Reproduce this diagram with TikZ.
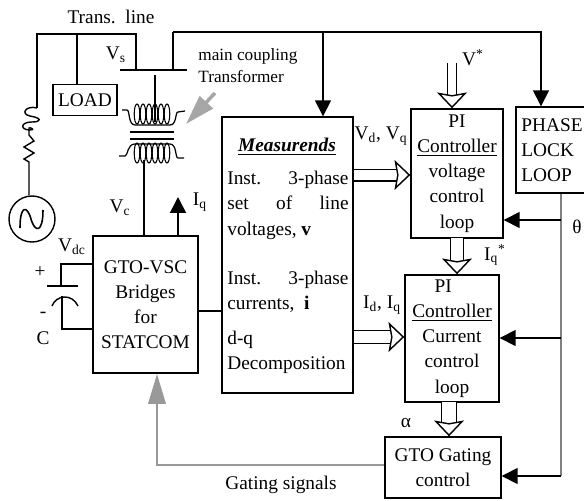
\documentclass[tikz,border=0pt]{standalone}
\usepackage{fontspec}
\setmainfont{Liberation Serif}
\usetikzlibrary{arrows.meta}
\newcommand{\pw}{0.02cm}
\begin{document}
\begin{tikzpicture}[x=0.02cm, y=-0.02cm,
    box/.style={draw, line width=0.8pt, inner sep=0pt, align=center, font=\fontsize{11}{14.3}\selectfont},
    txt/.style={inner sep=0pt, font=\fontsize{11}{14.3}\selectfont},
    sym/.style={inner sep=0pt, font=\fontsize{11}{13}\selectfont},
    side/.style={inner sep=0pt, align=left, anchor=north west, font=\fontsize{11}{14.3}\selectfont},
    wire/.style={line width=0.8pt},
    line/.style={line width=0.9pt, -{Triangle[length=9pt, width=9pt]}},
    hollow/.style={line width=0.7pt, double, double distance=#1, -{Stealth[open, fill=white, length=9pt, width=17pt, inset=1.5pt, line width=0.8pt]}},
    hollow/.default=6pt,
    gray line/.style={draw=gray!80, line width=1pt}]
\useasboundingbox (0,0) rectangle (584,500);
\node[box, minimum width=64*\pw, minimum height=31*\pw] (load) at (85,100) {LOAD};
\node[box, minimum width=105*\pw, minimum height=137*\pw] (gto) at (145.5,304.5) {GTO-VSC\\Bridges\\for\\STATCOM};
\node[draw, line width=0.8pt, minimum width=131*\pw, minimum height=276*\pw, inner sep=0pt] (meas) at (287.5,255) {};
\node[box, minimum width=92*\pw, minimum height=129*\pw] (pivolt) at (457,173.5) {PI\\\underline{Controller}\\voltage\\control\\loop};
\node[box, minimum width=94*\pw, minimum height=127*\pw] (picurr) at (452,338.5) {\hspace*{-10pt}PI\\\underline{Controller}\\Current\\control\\loop};
\node[box, minimum width=116*\pw, minimum height=61*\pw] (gating) at (443,467.5) {GTO Gating\\control};
\node[box, minimum width=72*\pw, minimum height=86*\pw, align=left] (pll) at (552,150) {PHASE\\LOCK\\LOOP};
\node[draw, circle, line width=0.8pt, minimum size=46*\pw, inner sep=0pt] (src) at (32,219) {};
\node[txt, font=\fontsize{11}{14}\selectfont\bfseries\itshape] (title) at (287,147) {\underline{Measurends}};
\node[side] (inst1) at (227,171) {\makebox[69pt][s]{Inst. 3-phase}\\\makebox[69pt][s]{set of line}\\voltages, \textbf{v}};
\node[side] (inst2) at (227,271) {\makebox[69pt][s]{Inst. 3-phase}\\currents,~~\textbf{i}};
\node[side] (dq) at (227,331) {d-q\\Decomposition};
\node[txt] (trans) at (111,17) {Trans.~~line};
\node[txt, font=\fontsize{9.8}{12.5}\selectfont, align=left, anchor=west] (maincp) at (198,66) {main coupling\\Transformer};
\node[sym] (vs) at (116,55) {V\textsubscript{s}};
\node[sym] (vc) at (120,208) {V\textsubscript{c}};
\node[sym] (iq) at (200,202) {I\textsubscript{q}};
\node[sym] (vdc) at (72,247) {V\textsubscript{dc}};
\node[sym] (plus) at (40,272) {+};
\node[sym] (minus) at (43,315) {-};
\node[sym] (cc) at (43,338) {C};
\node[sym] (vstar) at (473,58) {V\textsuperscript{*}};
\node[sym] (vdq) at (381,136) {V\textsubscript{d}, V\textsubscript{q}};
\node[sym] (idq) at (382,305) {I\textsubscript{d}, I\textsubscript{q}};
\node[sym] (iqstar) at (495,255) {I\textsubscript{q}\textsuperscript{*}};
\node[sym] (alpha) at (406,423) {α};
\node[sym] (theta) at (577,227) {θ};
\node[txt] (gsig) at (281,485) {Gating signals};
\coordinate (busl) at (120,70);
\coordinate (busr) at (187,70);
\coordinate (busa) at (136,70);
\coordinate (busb) at (173,70);
\coordinate (topl) at (37,34);
\coordinate (topm) at (77,34);
\coordinate (topr) at (136,34);
\coordinate (feed) at (173,32);
\coordinate (feedm) at (323,32);
\coordinate (feedr) at (541,32);
\coordinate (primtop) at (155,75);
\coordinate (primbot) at (155,122);
\coordinate (secbot) at (144,160);
\coordinate (indtop) at (37,108);
\coordinate (resa) at (29,135);
\coordinate (resb) at (29,166);
\coordinate (iqa) at (178,236);
\coordinate (iqb) at (178,197);
\coordinate (capa) at (61,264);
\coordinate (capb) at (61,286);
\coordinate (capc) at (62,296);
\coordinate (capd) at (62,329);
\coordinate (gsa) at (157,465);
\coordinate (gsb) at (157,421);
\coordinate (gsc) at (157,374);
\coordinate (plla) at (561,193);
\coordinate (pllb) at (561,220);
\coordinate (pllc) at (561,338);
\coordinate (plld) at (561,476);
\coordinate (vsin) at (452,63);
\draw[wire] (busl) -- (busr);
\draw[wire] (indtop) -- (topl) -- (topr) -- (busa);
\draw[wire] (topm) -- (load.north -| topm);
\draw[wire] (busb) -- (feed);
\draw[line] (feed) -- (feedr) -- (pll.north -| feedr);
\draw[line] (feedm) -- (meas.north -| feedm);
\draw[wire] (primtop) -- (primbot);
\draw[wire] (secbot) -- (gto.north -| secbot);
\draw[line] (iqa) -- (iqb);
\draw[line width=0.8pt] (indtop) .. controls (26,105) and (20,114) .. (30,116) .. controls (42,118) and (42,122) .. (32,122) .. controls (20,122) and (20,130) .. (30,130) .. controls (36,130) and (30,127) .. (29,128) -- (resa);
\draw[wire] (resa) -- (34,141) -- (24,147) -- (34,153) -- (24,159) -- (29,162) -- (resb) -- (src.north -| resb);
\draw[line width=0.9pt] (20,228) .. controls (20,205) and (27,205) .. (31,219) .. controls (35,233) and (43,233) .. (43,210);
\foreach \cx in {137,143,149,155,161,167} {
  \draw[line width=0.6pt] (\cx,114) ellipse (2.8 and 10);
  \draw[line width=0.6pt] (\cx,153) ellipse (2.8 and 10);
}
\draw[line width=0.7pt] (122,110) -- (127,110) .. controls (130,110) and (128,125) .. (135,125) -- (170,125) .. controls (177,125) and (175,112) .. (178,112) -- (185,111);
\draw[line width=0.7pt] (119,156) -- (125,156) .. controls (128,156) and (127,144) .. (135,144) -- (170,144) .. controls (177,144) and (175,158) .. (178,158) -- (184,158);
\draw[line width=0.8pt] (130,132) -- (174,132);
\draw[line width=0.8pt] (130,139) -- (174,139);
\draw[-{Triangle[length=17pt, width=10pt]}, draw=gray!70, fill=gray!70, line width=2pt] (215,93) -- (186,124);
\draw[wire] (gto.west |- capa) -- (capa) -- (capb);
\draw[wire] (47,286) -- (78,286);
\draw[wire] (52,306) .. controls (56,295) and (72,293) .. (78,306);
\draw[wire] (capc) -- (capd) -- (gto.west |- capd);
\draw[line width=1.5pt] (gto.east |- 0,311) -- (meas.west |- 0,311);
\draw[gray line] (gating.west |- gsa) -- (gsa) -- (gsb);
\draw[-{Triangle[length=17pt, width=10pt]}, draw=gray!80, fill=gray!80, line width=1pt] (gsb) -- (gsc);
\draw[wire, draw=gray] (pll.south -| plla) -- (plld);
\draw[line] (pllb) -- (pivolt.east |- pllb);
\draw[line] (pllc) -- (picurr.east |- pllc);
\draw[line] (plld) -- (gating.east |- plld);
\draw[hollow=4.5pt] (vsin) -- (pivolt.north -| vsin);
\draw[hollow=6pt] (meas.east |- 0,175) -- (pivolt.west |- 0,175);
\draw[hollow=6.5pt] (457,238) -- (picurr.north -| 457,238);
\draw[hollow=6.5pt] (meas.east |- 0,337) -- (picurr.west |- 0,337);
\draw[hollow=8pt] (449,402) -- (gating.north -| 449,402);
\end{tikzpicture}
\end{document}
